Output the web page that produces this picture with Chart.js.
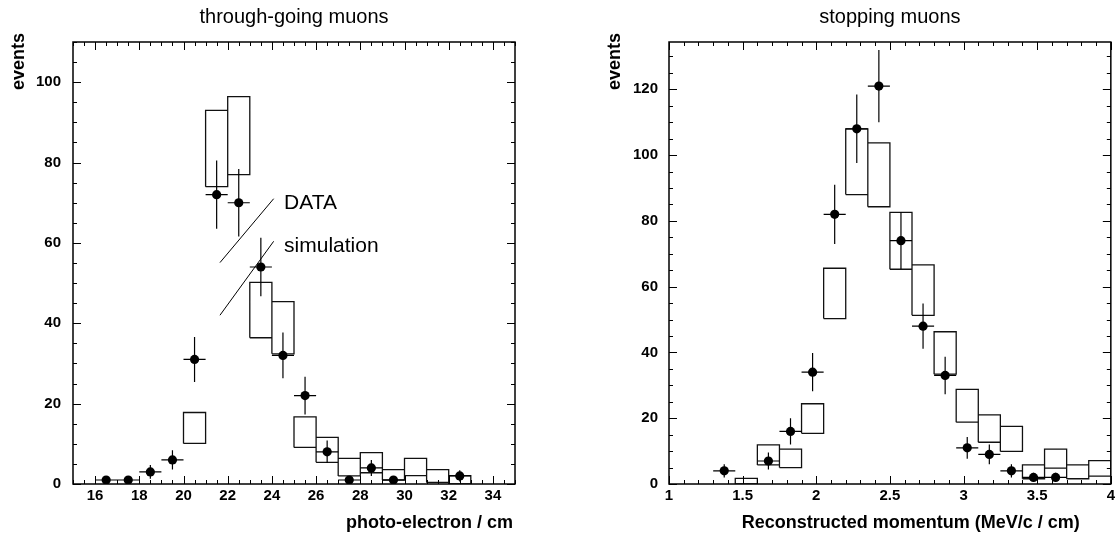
<!DOCTYPE html>
<html>
<head>
<meta charset="utf-8">
<script src="https://cdn.jsdelivr.net/npm/chart.js@4.4.0/dist/chart.umd.min.js"></script>
<style>
  html, body { margin: 0; padding: 0; background: #fff; }
  #wrap { position: relative; width: 1118px; height: 537px; }
  .panel { position: absolute; top: 0; width: 559px; height: 537px; }
</style>
</head>
<body>
<div id="wrap">
  <div class="panel" style="left:0"><canvas id="peChart" width="559" height="537"></canvas></div>
  <div class="panel" style="left:559px"><canvas id="momChart" width="559" height="537"></canvas></div>
</div>
<script>
// ---- through-going muons (photo-electron / cm), bin width 1 ----
const peDataX   = [16.5, 17.5, 18.5, 19.5, 20.5, 21.5, 22.5, 23.5, 24.5, 25.5, 26.5, 27.5, 28.5, 29.5, 32.5];
const peDataY   = [1, 1, 3, 6, 31, 72, 70, 54, 32, 22, 8, 1, 4, 1, 2];
const peDataErr = [1, 1, 1.7, 2.4, 5.6, 8.5, 8.4, 7.3, 5.7, 4.7, 2.8, 1, 2, 1, 1.4];
const peSimEdge = [20, 21, 22, 23, 24, 25, 26, 27, 28, 29, 30, 31, 32];
const peSimLow  = [10.1, 74, 77, 36.4, 32.4, 9.1, 5.4, 2.0, 2.8, 1.0, 2.1, 0.4, 0];
const peSimHigh = [17.8, 93, 96.4, 50.2, 45.4, 16.7, 11.6, 6.4, 7.8, 3.6, 6.4, 3.6, 2.1];
const peXTicks  = [16, 18, 20, 22, 24, 26, 28, 30, 32, 34];
const peYTicks  = [0, 20, 40, 60, 80, 100];

// ---- stopping muons (reconstructed momentum), bin width 0.15 ----
const momDataX   = [1.375, 1.675, 1.825, 1.975, 2.125, 2.275, 2.425, 2.575, 2.725, 2.875, 3.025, 3.175, 3.325, 3.475, 3.625];
const momDataY   = [4, 7, 16, 34, 82, 108, 121, 74, 48, 33, 11, 9, 4, 2, 2];
const momDataErr = [2, 2.6, 4, 5.8, 9, 10.4, 11, 8.6, 6.9, 5.7, 3.3, 3, 2, 1.4, 1.4];
const momSimEdge = [1.45, 1.6, 1.75, 1.9, 2.05, 2.2, 2.35, 2.5, 2.65, 2.8, 2.95, 3.1, 3.25, 3.4, 3.55, 3.7, 3.85];
const momSimLow  = [0, 5.8, 5.0, 15.4, 50.3, 88, 84.3, 65.3, 51.3, 33.4, 18.8, 12.7, 9.9, 1.6, 4.8, 1.6, 2.4];
const momSimHigh = [1.7, 11.9, 10.6, 24.4, 65.6, 108, 103.7, 82.6, 66.6, 46.3, 28.8, 21.0, 17.5, 5.8, 10.6, 5.8, 7.1];
const momXTicks  = [1, 1.5, 2, 2.5, 3, 3.5, 4];
const momYTicks  = [0, 20, 40, 60, 80, 100, 120];

const FONT = '"Liberation Sans", Arial, Helvetica, sans-serif';

// error crosses as one broken polyline (null y = gap)
function errorCrosses(xs, ys, errs, halfW) {
    const pts = [];
    xs.forEach((x, i) => {
        pts.push({x: x - halfW, y: ys[i]}, {x: x + halfW, y: ys[i]}, {x: x, y: null});
        pts.push({x: x, y: ys[i] - errs[i]}, {x: x, y: ys[i] + errs[i]}, {x: x, y: null});
    });
    return pts;
}

// simulation error boxes as closed outlines
function simBoxes(edges, lows, highs, w) {
    const pts = [];
    edges.forEach((e, i) => {
        pts.push({x: e, y: lows[i]}, {x: e + w, y: lows[i]}, {x: e + w, y: highs[i]},
                 {x: e, y: highs[i]}, {x: e, y: lows[i]}, {x: e, y: null});
    });
    return pts;
}

// frame, inside tick marks, titles and notes
const rootFrame = {
    id: 'rootFrame',
    afterDraw(chart, args, o) {
        const {ctx, chartArea: a} = chart;
        const xs = chart.scales.x, ys = chart.scales.y;
        ctx.save();
        ctx.strokeStyle = '#000';
        ctx.lineWidth = 1;
        ctx.beginPath();
        const n = Math.round((xs.max - xs.min) / o.xMinor);
        for (let i = 0; i <= n; i++) {
            const v = xs.min + i * o.xMinor;
            const len = o.xMajor.some(t => Math.abs(t - v) < 1e-6) ? 8 : 4;
            const px = Math.round(xs.getPixelForValue(v)) + 0.5;
            ctx.moveTo(px, a.bottom); ctx.lineTo(px, a.bottom - len);
            ctx.moveTo(px, a.top); ctx.lineTo(px, a.top + len);
        }
        const m = Math.floor((ys.max - ys.min) / o.yMinor + 1e-6);
        for (let i = 0; i <= m; i++) {
            const v = ys.min + i * o.yMinor;
            const len = o.yMajor.some(t => Math.abs(t - v) < 1e-6) ? 8 : 4;
            const py = Math.round(ys.getPixelForValue(v)) + 0.5;
            ctx.moveTo(a.left, py); ctx.lineTo(a.left + len, py);
            ctx.moveTo(a.right, py); ctx.lineTo(a.right - len, py);
        }
        ctx.stroke();
        ctx.lineWidth = 1.5;
        ctx.strokeRect(a.left, a.top, a.right - a.left, a.bottom - a.top);

        ctx.fillStyle = '#000';
        ctx.font = '20px ' + FONT;
        ctx.textAlign = 'center';
        ctx.textBaseline = 'alphabetic';
        ctx.fillText(o.title, (a.left + a.right) / 2, 23);

        ctx.font = 'bold 18px ' + FONT;
        ctx.textAlign = 'right';
        ctx.fillText(o.xTitle, a.right - o.xTitleInset, 528);

        ctx.save();
        ctx.translate(o.yTitleX, 33);
        ctx.rotate(-Math.PI / 2);
        ctx.font = 'bold 18px ' + FONT;
        ctx.textAlign = 'right';
        ctx.textBaseline = 'middle';
        ctx.fillText('events', 0, 0);
        ctx.restore();

        ctx.font = '21px ' + FONT;
        ctx.textAlign = 'left';
        ctx.textBaseline = 'alphabetic';
        (o.notes || []).forEach(t => {
            ctx.fillText(t.text, xs.getPixelForValue(t.x), ys.getPixelForValue(t.y));
        });
        ctx.restore();
    }
};

function makeChart(id, c) {
    const datasets = [
        {
            data: c.dataX.map((x, i) => ({x: x, y: c.dataY[i]})),
            pointRadius: 4.6, pointHoverRadius: 4.6,
            backgroundColor: '#000', borderWidth: 0, order: 0
        },
        {
            data: errorCrosses(c.dataX, c.dataY, c.dataErr, c.binW / 2),
            showLine: true, spanGaps: false, pointRadius: 0,
            borderColor: '#000', borderWidth: 1.2, order: 1
        },
        {
            data: simBoxes(c.simEdge, c.simLow, c.simHigh, c.binW),
            showLine: true, spanGaps: false, pointRadius: 0,
            borderColor: '#111', borderWidth: 1.3, order: 2
        }
    ];
    (c.pointers || []).forEach(seg => datasets.push({
        data: seg, showLine: true, pointRadius: 0,
        borderColor: '#000', borderWidth: 1, order: 3
    }));

    const tickFont = {family: FONT, size: 15, weight: 'bold'};
    return new Chart(document.getElementById(id), {
        type: 'scatter',
        data: {datasets: datasets},
        options: {
            responsive: false,
            animation: false,
            devicePixelRatio: 1,
            layout: {padding: {left: 0, top: 42, right: c.padRight, bottom: 0}},
            plugins: {
                legend: {display: false},
                tooltip: {enabled: false},
                rootFrame: c.frame
            },
            scales: {
                x: {
                    type: 'linear', min: c.xMin, max: c.xMax,
                    grid: {display: false, drawTicks: false}, border: {display: false},
                    afterBuildTicks: s => { s.ticks = c.xTicks.map(v => ({value: v})); },
                    afterFit: s => { s.height = 53; },
                    ticks: {font: tickFont, color: '#000', padding: 3, autoSkip: false,
                            maxRotation: 0, callback: v => String(v)}
                },
                y: {
                    type: 'linear', min: 0, max: c.yMax,
                    grid: {display: false, drawTicks: false}, border: {display: false},
                    afterBuildTicks: s => { s.ticks = c.yTicks.map(v => ({value: v})); },
                    afterFit: s => { s.width = c.yWidth; },
                    ticks: {font: tickFont, color: '#000', padding: c.yPad, callback: v => String(v)}
                }
            }
        },
        plugins: [rootFrame]
    });
}

makeChart('peChart', {
    dataX: peDataX, dataY: peDataY, dataErr: peDataErr, binW: 1,
    simEdge: peSimEdge, simLow: peSimLow, simHigh: peSimHigh,
    xMin: 15, xMax: 35, yMax: 110, xTicks: peXTicks, yTicks: peYTicks,
    yWidth: 73, yPad: 12, padRight: 44,
    pointers: [
        [{x: 21.65, y: 55.1}, {x: 24.08, y: 71.0}],
        [{x: 21.65, y: 42.0}, {x: 24.08, y: 60.4}]
    ],
    frame: {
        title: 'through-going muons', xTitle: 'photo-electron / cm', xTitleInset: 2, yTitleX: 19,
        xMinor: 0.5, xMajor: peXTicks, yMinor: 5, yMajor: peYTicks,
        notes: [{x: 24.55, y: 68.4, text: 'DATA'}, {x: 24.55, y: 57.7, text: 'simulation'}]
    }
});

makeChart('momChart', {
    dataX: momDataX, dataY: momDataY, dataErr: momDataErr, binW: 0.15,
    simEdge: momSimEdge, simLow: momSimLow, simHigh: momSimHigh,
    xMin: 1, xMax: 4, yMax: 134.4, xTicks: momXTicks, yTicks: momYTicks,
    yWidth: 110, yPad: 11, padRight: 5,
    frame: {
        title: 'stopping muons', xTitle: 'Reconstructed momentum (MeV/c / cm)', xTitleInset: 31, yTitleX: 56,
        xMinor: 0.1, xMajor: momXTicks, yMinor: 5, yMajor: momYTicks
    }
});
</script>
</body>
</html>
